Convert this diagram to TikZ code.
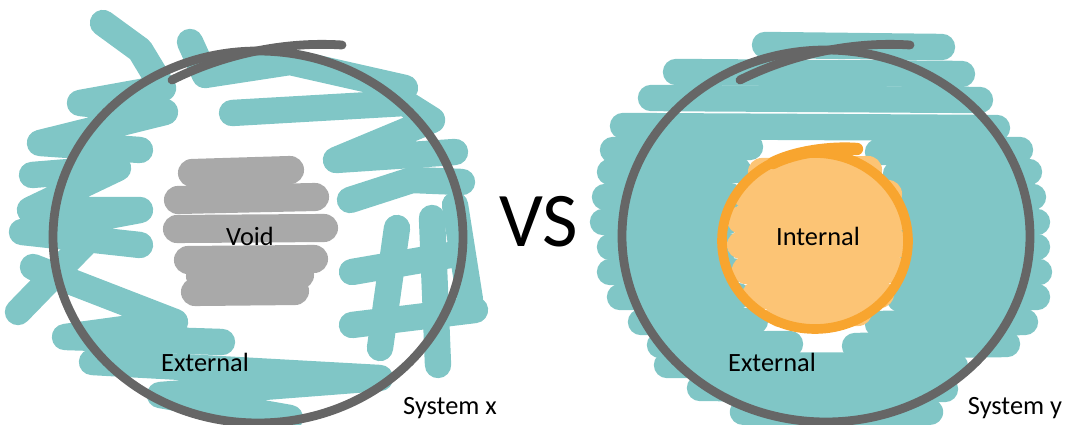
\documentclass[tikz,border=0pt]{standalone}
\usepackage{fontspec}
\setmainfont{Carlito}
\usepackage{tikz}
\usepackage{xcolor}
\usetikzlibrary{positioning}
\definecolor{Scribble_Teal}{HTML}{80C6C6}
\definecolor{Rim_Gray}{HTML}{666666}
\definecolor{Void_Gray}{HTML}{A9A9A9}
\definecolor{Internal_Orange}{HTML}{F8A52F}
\definecolor{Internal_Fill}{HTML}{FCC475}

\begin{document}
\begin{tikzpicture}[x=0.02cm, y=-0.02cm,
    scribble/.style={draw=Scribble_Teal, line width=15pt, line cap=round, line join=round},
    voidstroke/.style={draw=Void_Gray, line width=16pt, line cap=round},
    fillstroke/.style={draw=Internal_Fill, line width=16pt, line cap=round},
    rim/.style={draw=Rim_Gray, line width=5pt, line cap=round},
    ring/.style={draw=Internal_Orange, line width=5.5pt, line cap=round},
    hand/.style={font=\fontsize{15}{18}\selectfont, text=black, inner sep=0pt}]
    \useasboundingbox (0,0) rectangle (1072,425);

    % System x: scribbles
    \draw[scribble] (103,23) -- (140,50) -- (163,88) -- (80,103) -- (165,112) -- (40,143) -- (140,150);
    \draw[scribble] (32,175) -- (118,168) -- (30,210) -- (140,210) -- (22,232) -- (140,245);
    \draw[scribble] (18,312) -- (88,240);
    \draw[scribble] (33,267) -- (175,322) -- (65,337) -- (222,342);
    \draw[scribble] (92,362) -- (380,378) -- (160,395) -- (290,418);
    \draw[scribble] (190,42) -- (205,75) -- (290,62) -- (405,88);
    \draw[scribble] (232,113) -- (405,103) -- (432,120) -- (336,160) -- (455,152);
    \draw[scribble] (350,200) -- (412,180) -- (462,182);
    \draw[scribble] (397,228) -- (380,348);
    \draw[scribble] (352,272) -- (462,253);
    \draw[scribble] (432,218) -- (438,365);
    \draw[scribble] (352,325) -- (475,310);
    \draw[scribble] (455,205) -- (470,300);

    % System x: void
    \draw[voidstroke] (192,173) -- (290,170);
    \draw[voidstroke] (178,200) -- (315,197);
    \draw[voidstroke] (177,229) -- (324,228);
    \draw[voidstroke] (188,260) -- (314,259);
    \draw[voidstroke] (195,292) -- (295,291);
    \draw[voidstroke] (200,276) -- (300,275);

    % System y: scribbles
    \draw[scribble] (765,45) -- (942,47);
    \draw[scribble] (676,72) -- (962,74);
    \draw[scribble] (651,98) -- (980,100);
    \draw[scribble] (623,126) -- (997,128);
    \draw[scribble] (613,150) -- (750,147); \draw[scribble] (878,152) -- (1020,150);
    \draw[scribble] (610,172) -- (738,170); \draw[scribble] (896,174) -- (1029,172);
    \draw[scribble] (605,197) -- (730,196); \draw[scribble] (905,199) -- (1033,197);
    \draw[scribble] (603,222) -- (728,221); \draw[scribble] (910,224) -- (1037,222);
    \draw[scribble] (610,247) -- (728,246); \draw[scribble] (910,249) -- (1037,247);
    \draw[scribble] (610,272) -- (732,271); \draw[scribble] (905,274) -- (1039,272);
    \draw[scribble] (620,297) -- (738,296); \draw[scribble] (900,299) -- (1037,297);
    \draw[scribble] (641,322) -- (755,321); \draw[scribble] (878,324) -- (1025,322);
    \draw[scribble] (660,345) -- (790,344); \draw[scribble] (855,346) -- (1007,344);
    \draw[scribble] (667,365) -- (955,366);
    \draw[scribble] (700,388) -- (945,389);
    \draw[scribble] (743,412) -- (930,412);

    % System y: internal
    \draw[fillstroke] (762,172) -- (868,170);
    \draw[fillstroke] (747,195) -- (888,194);
    \draw[fillstroke] (741,220) -- (894,219);
    \draw[fillstroke] (741,245) -- (896,244);
    \draw[fillstroke] (746,270) -- (892,269);
    \draw[fillstroke] (756,295) -- (880,294);
    \draw[fillstroke] (780,313) -- (858,312);
    \draw[ring] (815,241) ellipse [x radius=93, y radius=88];
    \draw[ring, line width=7pt] (773,163) .. controls (795,152) and (830,147) .. (857,149);

    % rims
    \draw[rim] (258,237) ellipse [x radius=205, y radius=186];
    \draw[rim] (172,80) .. controls (220,56) and (280,41) .. (342,45);
    \draw[rim] (826,236) ellipse [x radius=204, y radius=186];
    \draw[rim] (740,80) .. controls (788,56) and (848,41) .. (910,45);

    % labels
    \node[hand] (void) at (250,236) {Void};
    \node[hand] (ext-x) at (205,362) {External};
    \node[hand] (sys-x) at (450,408) {System x};
    \node[font=\fontsize{44}{50}\selectfont, inner sep=0pt] (vs) at (539,222) {VS};
    \node[hand] (internal) at (818,236) {Internal};
    \node[hand] (ext-y) at (772,362) {External};
    \node[hand] (sys-y) at (1015,408) {System y};
\end{tikzpicture}
\end{document}
